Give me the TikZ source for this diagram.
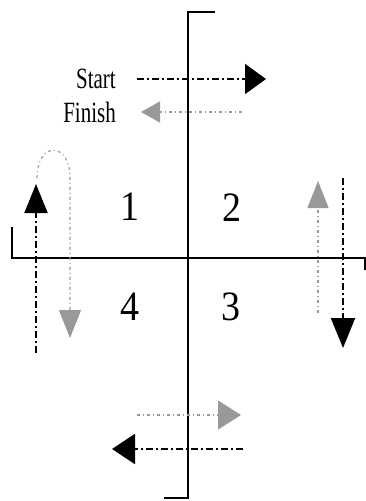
\documentclass[tikz,border=0pt]{standalone}
\usepackage{fontspec}
\setmainfont{Liberation Serif}
\usetikzlibrary{arrows.meta}
\begin{document}
\begin{tikzpicture}[x=1pt,y=-1pt,
  axis/.style={line width=2.4pt,line cap=butt,line join=miter},
  blk/.style={line width=2pt,dash pattern=on 7pt off 3pt on 2pt off 3pt},
  gry/.style={line width=1.1pt,gray!80,dash pattern=on 3pt off 3pt on 1pt off 3pt},
  lbl/.style={font=\fontsize{21}{21}\selectfont,anchor=east,inner sep=0pt},
  num/.style={font=\fontsize{38}{38}\selectfont,inner sep=0pt}]
\useasboundingbox (0,0) rectangle (366,501);
% axes
\coordinate (vt) at (215,12);
\coordinate (vb) at (164,498);
\coordinate (hl) at (12,227);
\coordinate (hr) at (365,270);
\draw[axis] (vt) -- (188,12) -- (188,498) -- (vb);
\draw[axis] (hl) -- (12,258) -- (365,258) -- (hr);
% labels
\node[lbl] (start) at (116,79) {\scalebox{1}[1.4]{Start}};
\node[lbl] (finish) at (116,112) {\scalebox{1}[1.4]{Finish}};
\node[num] (n1) at (130,207) {\scalebox{1}[1.1]{1}};
\node[num] (n2) at (232,208) {\scalebox{1}[1.1]{2}};
\node[num] (n4) at (130,307) {\scalebox{1}[1.1]{4}};
\node[num] (n3) at (231,307) {\scalebox{1}[1.1]{3}};
% start / finish arrows
\coordinate (s0) at (137,79); \coordinate (s1) at (266,79);
\draw[blk,-{Triangle[length=21pt,width=30pt]}] (s0) -- (s1);
\coordinate (f0) at (242,112); \coordinate (f1) at (141,112);
\draw[gry,-{Triangle[length=19pt,width=21pt]}] (f0) -- (f1);
% left loop
\coordinate (l0) at (36,353); \coordinate (l1) at (36,184);
\draw[blk,-{Triangle[length=29pt,width=23pt]}] (l0) -- (l1);
\coordinate (g0) at (37,178); \coordinate (g1) at (70,338);
\draw[gry,-{Triangle[length=28pt,width=22pt]}] (g0) .. controls (37,141) and (70,141) .. (70,178) -- (g1);
% right arrows
\coordinate (r0) at (318,313); \coordinate (r1) at (318,181);
\draw[gry,-{Triangle[length=27pt,width=21pt]}] (r0) -- (r1);
\coordinate (k0) at (343,178); \coordinate (k1) at (343,348);
\draw[blk,-{Triangle[length=30pt,width=24pt]}] (k0) -- (k1);
% bottom arrows
\coordinate (b0) at (137,415); \coordinate (b1) at (241,415);
\draw[gry,-{Triangle[length=23pt,width=29pt]}] (b0) -- (b1);
\coordinate (c0) at (243,449); \coordinate (c1) at (112,449);
\draw[blk,-{Triangle[length=23pt,width=30pt]}] (c0) -- (c1);
\end{tikzpicture}
\end{document}
